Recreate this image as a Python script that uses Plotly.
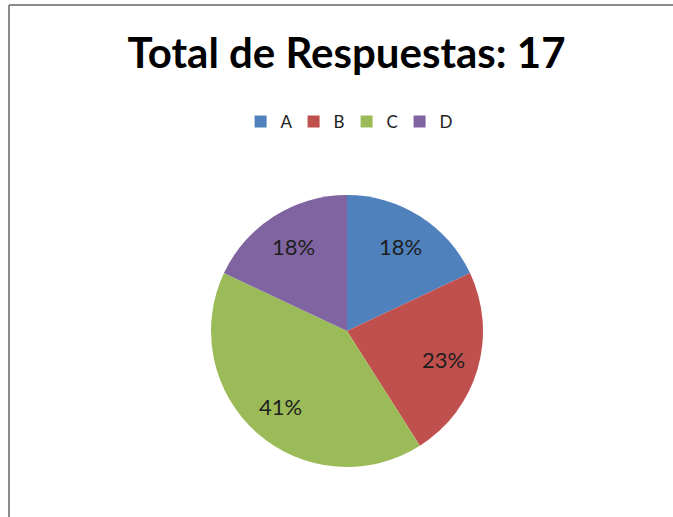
import math
import plotly.graph_objects as go

categories = ["A", "B", "C", "D"]
values = [18, 23, 41, 18]  # percentages shown on the chart
colors = ["#4F81BD", "#C0504D", "#9BBB59", "#8064A2"]
title_text = "Total de Respuestas: 17"

W, H = 673, 517
cx, cy, r = 347, 331, 136
label_frac = 0.74
font_fam = "Lato, Open Sans, sans-serif"

fig = go.Figure(go.Pie(
    labels=categories,
    values=values,
    marker=dict(colors=colors, line=dict(width=0)),
    sort=False,
    direction="clockwise",
    rotation=0,
    textinfo="none",
    domain=dict(x=[(cx - r) / W, (cx + r) / W], y=[1 - (cy + r) / H, 1 - (cy - r) / H]),
    hoverinfo="label+percent",
))

# percentage labels placed along each slice's mid-angle
total = sum(values)
annotations = []
cum = 0.0
for v in values:
    mid = (cum + v / 2) / total * 2 * math.pi
    cum += v
    px = cx + label_frac * r * math.sin(mid)
    py = cy - label_frac * r * math.cos(mid)
    annotations.append(dict(
        x=px / W, y=1 - py / H, xref="paper", yref="paper",
        text=f"{round(v / total * 100)}%", showarrow=False,
        font=dict(family=font_fam, size=22, color="#1e1e1e"),
        xanchor="center", yanchor="middle",
    ))

fig.update_layout(
    width=W, height=H,
    margin=dict(l=0, r=0, t=0, b=0),
    paper_bgcolor="white",
    plot_bgcolor="white",
    title=dict(text="<b>" + title_text + "</b>", x=0.515, xanchor="center", y=1 - 53 / H, yanchor="middle",
               font=dict(family=font_fam, size=42, color="black")),
    legend=dict(orientation="h", x=0.515, xanchor="center", y=1 - 122 / H, yanchor="middle",
                font=dict(family=font_fam, size=17, color="#222"),
                itemwidth=30, entrywidth=8, entrywidthmode="pixels", traceorder="normal"),
    showlegend=True,
    annotations=annotations,
    shapes=[
        dict(type="line", xref="paper", yref="paper", x0=9 / W, x1=9 / W, y0=0, y1=1 - 5 / H,
             line=dict(color="#8c8c8c", width=2)),
        dict(type="line", xref="paper", yref="paper", x0=9 / W, x1=1.01, y0=1 - 5 / H, y1=1 - 5 / H,
             line=dict(color="#8c8c8c", width=2)),
    ],
)

fig.write_html("out.html", config={"displayModeBar": False},
               post_script="document.body.style.margin='0';document.body.style.overflow='hidden';")
